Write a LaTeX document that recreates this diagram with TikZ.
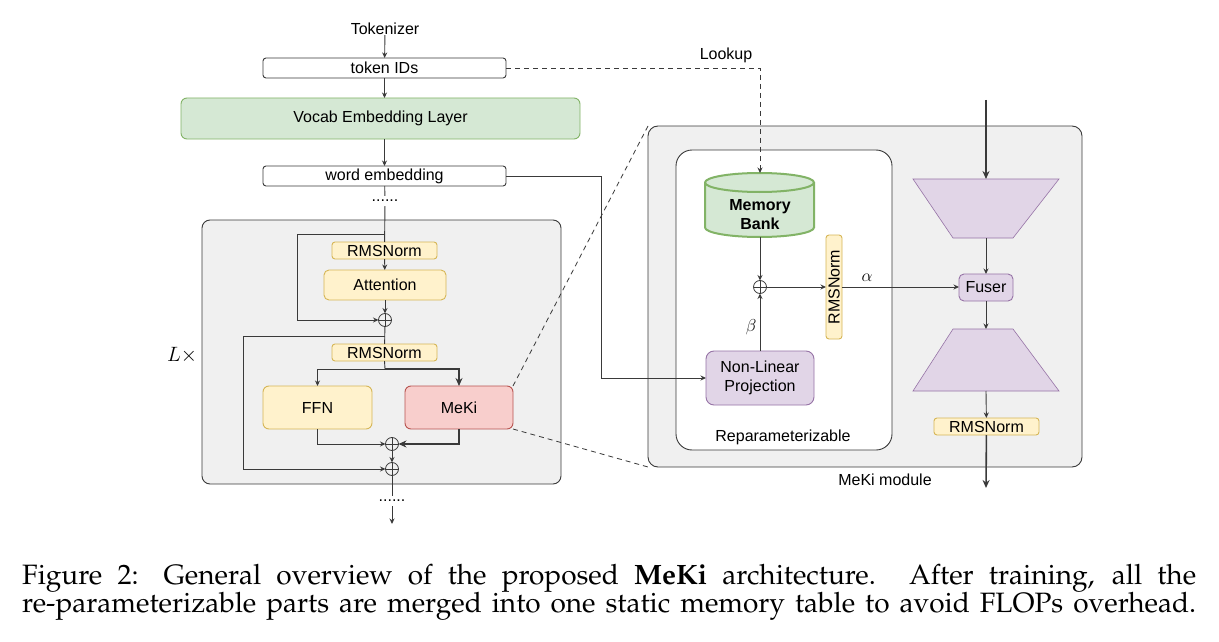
\documentclass[tikz,border=0pt]{standalone}
\usepackage[T1]{fontenc}
\usepackage{fontspec}
\newfontfamily\arial{Liberation Sans}
\usetikzlibrary{arrows.meta,calc}
\definecolor{gbg}{HTML}{F0F0F0}
\definecolor{lnc}{HTML}{3A3A3A}
\definecolor{yf}{HTML}{FFF2CC}
\definecolor{yd}{HTML}{D6B656}
\definecolor{rf}{HTML}{F8CECC}
\definecolor{rd}{HTML}{B85450}
\definecolor{gf}{HTML}{D5E8D4}
\definecolor{gd}{HTML}{82B366}
\definecolor{pf}{HTML}{E1D5E7}
\definecolor{pd}{HTML}{9673A6}
\newcommand\capfont{\usefont{T1}{ppl}{m}{n}\fontsize{28}{30}\selectfont}
\tikzset{
  base/.style={inner sep=0pt, outer sep=0pt, line width=0.9pt},
  wbox/.style={base, draw=lnc, fill=white, rounded corners=3pt, minimum width=243, minimum height=20},
  gbox/.style={base, draw=gd, fill=gf, rounded corners=6pt},
  ybox/.style={base, draw=yd, fill=yf, rounded corners=3pt},
  rbox/.style={base, draw=rd, fill=rf, rounded corners=6pt},
  pbox/.style={base, draw=pd, fill=pf, rounded corners=5pt},
  txt/.style={inner sep=0pt},
  dotsn/.style={inner sep=0pt, minimum height=10},
  oplus/.style={circle, draw=lnc, line width=0.8pt, minimum size=13, inner sep=0pt, outer sep=0pt,
    path picture={\draw[lnc, line width=0.8pt] (path picture bounding box.north) -- (path picture bounding box.south)
      (path picture bounding box.west) -- (path picture bounding box.east);}},
  ln/.style={draw=lnc, line width=0.9pt},
  arr/.style={ln, -{Stealth[length=5.5pt,width=5pt]}},
  tarr/.style={draw=lnc, line width=1.6pt, -{Stealth[length=8pt,width=7pt]}},
  dsh/.style={draw=lnc, line width=0.8pt, dash pattern=on 5pt off 4pt},
}
\begin{document}
\begin{tikzpicture}[x=1pt, y=-1pt, font=\arial\fontsize{16}{19}\selectfont]
\useasboundingbox[fill=white] (0,0) rectangle (1219,642);

% ---------- left column ----------
\node[txt] (tok) at (385,29) {Tokenizer};
\node[wbox] (tid) at (384.5,68) {token IDs};
\node[gbox, minimum width=399, minimum height=41] (voc) at (380.5,118.5) {Vocab Embedding Layer};
\node[wbox] (we) at (384.5,176) {word embedding};
\node[dotsn] (d1) at (385,201) {......};

\node[base, draw=lnc, fill=gbg, rounded corners=8pt, minimum width=359, minimum height=264] (blk) at (381.5,352) {};
\node[txt] (lx) at (182,355) {\fontsize{22}{24}\selectfont$L\times$};

\node[ybox, minimum width=105, minimum height=17] (rn1) at (384.5,250.5) {RMSNorm};
\node[ybox, rounded corners=5pt, minimum width=122, minimum height=30] (att) at (385,285) {Attention};
\node[oplus, fill=gbg] (p1) at (385,320) {};
\node[ybox, minimum width=105, minimum height=17] (rn2) at (384.5,352.5) {RMSNorm};
\node[ybox, rounded corners=6pt, minimum width=109, minimum height=43] (ffn) at (317.5,407.5) {FFN};
\node[rbox, minimum width=108, minimum height=43] (meki) at (459,407.5) {MeKi};
\node[oplus, fill=gbg] (p2) at (392,444) {};
\node[oplus, fill=gbg] (p3) at (392,469) {};
\node[dotsn] (d2) at (392,501) {......};
\coordinate (out) at (392,524);

\draw[arr] (tok) -- (tid);
\draw[arr] (tid.south) -- (tid.south |- voc.north);
\draw[arr] (we.north |- voc.south) -- (we.north);
\draw[ln] (we) -- (d1);
\coordinate (j1) at (385,234);
\draw[ln] (d1) -- (rn1);
\draw[arr] (j1) -- (297,234) |- (p1.west);
\draw[arr] (rn1) -- (att);
\draw[arr] (att) -- (p1);
\draw[ln] (p1) -- (rn2);
\coordinate (j2) at (385,336);
\draw[arr] (j2) -- (243,336) |- (p3.west);
\coordinate (j3) at (385,369);
\draw[ln] (rn2.south) -- (j3);
\draw[arr] (j3) -| (ffn.north);
\draw[tarr] (j3) -| (meki.north);
\draw[arr] (ffn.south) |- (p2.west);
\draw[tarr] (meki.south) |- (p2.east);
\draw[arr] (p2) -- (p3);
\draw[ln] (p3) -- (d2);
\draw[arr] (d2) -- (out);

% ---------- MeKi module ----------
\node[base, draw=lnc, fill=gbg, rounded corners=10pt, minimum width=434, minimum height=341] (mod) at (865,296.5) {};
\node[base, draw=lnc, fill=white, rounded corners=16pt, minimum width=216, minimum height=300] (rep) at (784,300) {};
\node[txt] (repl) at (783,437) {Reparameterizable};
\node[txt] (modl) at (885,480) {MeKi module};
\node[txt] (lk) at (726,55) {Lookup};

% memory bank cylinder
\path[fill=gf, draw=gd, line width=2pt]
  (705,182.5) -- (705,227.5) arc[start angle=180, end angle=360, x radius=54.5pt, y radius=9.5pt]
  -- (814,182.5) arc[start angle=0, end angle=180, x radius=54.5pt, y radius=9.5pt] -- cycle;
\draw[gd, line width=2pt] (705,182.5) arc[start angle=180, end angle=360, x radius=54.5pt, y radius=9.5pt];
\node[txt, align=center, font=\arial\bfseries\fontsize{16}{19}\selectfont] (mb) at (760,215) {Memory\\Bank};
\coordinate (mbt) at (760,173);
\coordinate (mbb) at (760,237);

\node[oplus, fill=white] (pr) at (760,287) {};
\node[ybox, rotate=90, minimum width=104, minimum height=16] (rn3) at (834,287) {RMSNorm};
\node[pbox, minimum width=54, minimum height=27] (fus) at (986,287.5) {Fuser};
\node[pbox, rounded corners=8pt, minimum width=108, minimum height=54, align=center] (nlp) at (760,378) {Non-Linear\\Projection};
\node[txt] (al) at (867,278) {\fontsize{18}{20}\selectfont$\alpha$};
\node[txt] (be) at (751,327) {\fontsize{18}{20}\selectfont$\beta$};

% trapezoids
\path[fill=pf, draw=pd, line width=0.6pt] (913,179) -- (1059,179) -- (1013,238) -- (953,238) -- cycle;
\path[fill=pf, draw=pd, line width=0.6pt] (953,329) -- (1013,329) -- (1059,391) -- (913,391) -- cycle;
\coordinate (t1t) at (986,179);
\coordinate (t1b) at (986,238);
\coordinate (t2t) at (986,329);
\coordinate (t2b) at (986,391);
\node[ybox, minimum width=105, minimum height=17] (rn4) at (986.5,426.5) {RMSNorm};
\coordinate (min) at (986,100);
\coordinate (mout) at (986,488);

\draw[dsh, -{Stealth[length=5.5pt,width=5pt]}] (tid.east) -- (760,68) -- (mbt);
\draw[arr] (mbb) -- (pr);
\draw[arr] (nlp) -- (pr);
\draw[arr] (pr) -- (rn3.north);
\draw[arr] (rn3.south) -- (rn3.south -| fus.west);
\draw[arr] (we.east) -- (601,176) |- (nlp.west);
\draw[tarr] (min) -- (t1t);
\draw[arr] (t1b) -- (fus);
\draw[arr] (fus) -- (t2t);
\draw[arr] (t2b) -- (rn4);
\draw[tarr] (rn4) -- (mout);

\draw[dsh] (meki.north east) -- (mod.north west);
\draw[dsh] (meki.south east) -- (mod.south west);

% ---------- caption ----------
\node[anchor=base west, inner sep=0pt] (c1) at (22,584) {\capfont\makebox[1174pt][s]{Figure 2: General overview of the proposed {\bfseries MeKi} architecture. After training, all the}};
\node[anchor=base west, inner sep=0pt] (c2) at (22,612) {\capfont\makebox[1174pt][s]{re-parameterizable parts are merged into one static memory table to avoid FLOPs overhead.}};
\end{tikzpicture}
\end{document}
